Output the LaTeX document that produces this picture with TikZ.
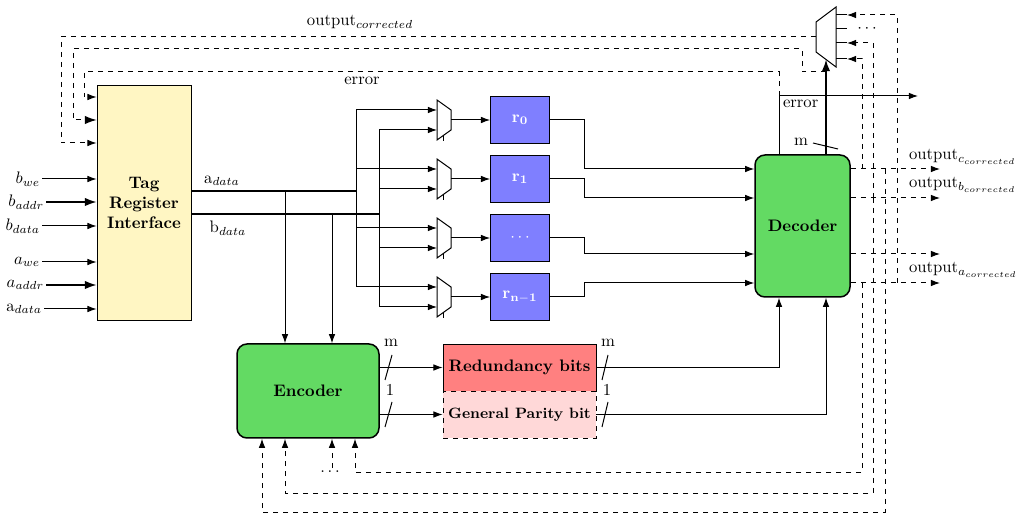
\documentclass[tikz,border=0pt]{standalone}
\usetikzlibrary{arrows.meta}
\definecolor{trifill}{RGB}{255,246,195}
\definecolor{regfill}{RGB}{127,127,255}
\definecolor{codfill}{RGB}{99,218,99}
\definecolor{redfill}{RGB}{255,128,128}
\definecolor{parfill}{RGB}{255,216,216}
\tikzset{
  conn/.style={line width=0.6pt, -{Latex[length=5.5pt,width=4pt]}},
  tconn/.style={line width=0.9pt, -{Latex[length=7pt,width=5pt]}},
  plain/.style={line width=0.6pt},
  dconn/.style={conn, dashed},
  tdconn/.style={line width=0.6pt, dashed, -{Latex[length=7pt,width=5pt]}},
  bus/.style={line width=0.9pt},
  box/.style={draw, line width=0.5pt, inner sep=0pt},
  coder/.style={draw, line width=0.9pt, rounded corners=6pt, fill=codfill, font=\bfseries},
  reg/.style={box, fill=regfill, text=white, minimum width=35.4pt, minimum height=28.2pt},
  muxshape/.style={draw, line width=0.6pt, fill=white},
  lbl/.style={inner sep=1pt},
}
\begin{document}
\begin{tikzpicture}[x=0.6pt,y=-0.6pt]
\useasboundingbox (0,0) rectangle (1016,513);

% main blocks
\node[box, fill=trifill, minimum width=56.4pt, minimum height=141pt, align=center, font=\bfseries] (tri) at (144,202.5) {Tag\\Register\\Interface};
\node[reg] (r0) at (520,120) {$\mathbf{r_0}$};
\node[reg] (r1) at (520,179) {$\mathbf{r_1}$};
\node[reg] (rd) at (520,238) {$\cdots$};
\node[reg] (rn) at (520,297) {$\mathbf{r_{n-1}}$};
\node[coder, minimum width=57pt, minimum height=85.2pt] (dec) at (802.5,226) {Decoder};
\node[coder, minimum width=85.2pt, minimum height=56.4pt] (enc) at (308,391) {Encoder};
\node[box, fill=redfill, minimum width=91.8pt, minimum height=28.2pt, font=\bfseries] (red) at (519.5,367.5) {Redundancy bits};
\node[box, dashed, fill=parfill, minimum width=91.8pt, minimum height=28.2pt, font=\small\bfseries] (par) at (519.5,414.5) {General Parity bit};

% left inputs
\node[lbl, anchor=east] (bwe) at (42,179) {$b_{we}$};
\node[lbl, anchor=east] (bad) at (46,202) {$b_{addr}$};
\node[lbl, anchor=east] (bda) at (42,226) {$b_{data}$};
\node[lbl, anchor=east] (awe) at (42,262) {$a_{we}$};
\node[lbl, anchor=east] (aad) at (46,285) {$a_{addr}$};
\node[lbl, anchor=east] (ada) at (44,309) {a$_{data}$};
\draw[conn] (bwe.east) -- (bwe.east -| tri.west);
\draw[tconn] (bad.east) -- (bad.east -| tri.west);
\draw[conn] (bda.east) -- (bda.east -| tri.west);
\draw[conn] (awe.east) -- (awe.east -| tri.west);
\draw[tconn] (aad.east) -- (aad.east -| tri.west);
\draw[conn] (ada.east) -- (ada.east -| tri.west);

% small muxes
\foreach \i/\yy in {0/120,1/179,2/238,3/297}{
  \draw[muxshape] (437,\yy-20) -- (451,\yy-10) -- (451,\yy+10) -- (437,\yy+20) -- cycle;
  \draw[plain] (443,\yy+15.7) -- (443,\yy+21);
  \coordinate (mxa\i) at (437,\yy-10);
  \coordinate (mxb\i) at (437,\yy+10);
  \coordinate (mxo\i) at (451,\yy);
}

% data buses
\coordinate (aj) at (356,191);
\coordinate (bj) at (379,214);
\draw[bus] (tri.east |- aj) -- (aj);
\draw[bus] (tri.east |- bj) -- (bj);
\node[lbl] (adl) at (222,181) {a$_{data}$};
\node[lbl] (bdl) at (228,228) {b$_{data}$};
\draw[plain] (mxa0 -| aj) -- (mxa3 -| aj);
\draw[plain] (mxb0 -| bj) -- (mxb3 -| bj);
\foreach \i in {0,...,3}{
  \draw[conn] (mxa\i -| aj) -- (mxa\i);
  \draw[conn] (mxb\i -| bj) -- (mxb\i);
}
\draw[conn] (mxo0) -- (r0.west);
\draw[conn] (mxo1) -- (r1.west);
\draw[conn] (mxo2) -- (rd.west);
\draw[conn] (mxo3) -- (rn.west);

% registers to decoder
\draw[conn] (r0.east) -- (584,120) |- (dec.west |- 0,169);
\draw[conn] (r1.east) -- (584,179) |- (dec.west |- 0,198);
\draw[conn] (rd.east) -- (584,238) |- (dec.west |- 0,254);
\draw[conn] (rn.east) -- (584,297) |- (dec.west |- 0,283);

% encoder inputs
\draw[conn] (285,191) -- (enc.north -| 285,0);
\draw[conn] (332,214) -- (enc.north -| 332,0);

% encoder outputs
\draw[conn] (enc.east |- red.west) -- (red.west);
\draw[conn] (enc.east |- par.west) -- (par.west);
\draw[plain] (385,380) -- (392,355);
\draw[plain] (385,427) -- (392,402);
\node[lbl] (m1) at (391,343) {m};
\node[lbl] (o1) at (390,390) {1};

\draw[conn] (red.east) -| (dec.south -| 779,0);
\draw[conn] (par.east) -| (dec.south -| 826,0);
\draw[plain] (602,380) -- (608,355);
\draw[plain] (602,427) -- (608,402);
\node[lbl] (m2) at (608,343) {m};
\node[lbl] (o2) at (607,390) {1};

% top output mux
\draw[muxshape] (816,22) -- (836,7) -- (836,67) -- (816,52) -- cycle;
\foreach \yy in {15,29,43,59} \draw[plain] (836,\yy) -- (847,\yy);
\node[lbl] (mdots) at (867,29) {$\cdots$};
\coordinate (mout) at (816,37);
\coordinate (msel) at (826,59.5);
\draw[tconn] (dec.north -| msel) -- (msel);
\draw[plain] (813,143) -- (838,149);
\node[lbl] (ml) at (801,142) {m};

% error
\coordinate (ej) at (779,96);
\draw[conn] (dec.north -| ej) -- (ej) -- (918,96);
\node[lbl, anchor=west] (el2) at (781,104) {error};

% decoder outputs
\draw[dconn] (dec.east |- 0,169) -- (940,169);
\draw[dconn] (dec.east |- 0,198) -- (940,198);
\draw[dconn] (dec.east |- 0,254) -- (940,254);
\draw[dconn] (dec.east |- 0,283) -- (940,283);
\node[lbl, anchor=west] (oc) at (907,157) {output$_{c_{corrected}}$};
\node[lbl, anchor=west] (ob) at (907,185) {output$_{b_{corrected}}$};
\node[lbl, anchor=west] (oa) at (907,270) {output$_{a_{corrected}}$};

% feedback to output mux
\draw[dconn] (862,169) |- (847,59);
\draw[dconn] (873,198) |- (847,43);
\draw[dconn] (897,283) |- (847,15);

% feedback to encoder
\draw[dconn] (885,169) |- (262,512) -- (enc.south -| 262,0);
\draw[dconn] (873,198) |- (285,493) -- (enc.south -| 285,0);
\draw[dconn] (862,283) |- (355,472) -- (enc.south -| 355,0);
\draw[dconn] (332,468) -- (enc.south -| 332,0);
\node[lbl] (edots) at (330,472) {$\dots$};

% feedback to tag register interface
\draw[dconn] (mout) -- (61,37) |- (tri.west |- 0,143);
\draw[tdconn] (826,72) -- (802,72) -- (802,49) -- (73,49) |- (tri.west |- 0,120);
\draw[dconn] (ej) -- (779,72) -- (84,72) |- (tri.west |- 0,97);
\node[lbl] (ocl) at (360,22) {output$_{corrected}$};
\node[lbl] (el1) at (362,81) {error};
\end{tikzpicture}
\end{document}
